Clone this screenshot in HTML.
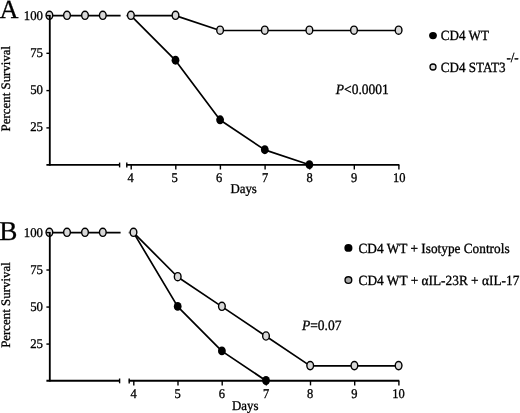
<!DOCTYPE html>
<html><head><meta charset="utf-8"><title>Survival</title>
<style>
html,body{margin:0;padding:0;background:#fff;}
body{width:520px;height:413px;overflow:hidden;}
svg{display:block;filter:grayscale(1);}
text{font-family:"Liberation Serif",serif;fill:#000;stroke:#000;stroke-width:0.3px;text-rendering:geometricPrecision;}
</style></head><body>
<svg width="520" height="413" viewBox="0 0 520 413">
<rect width="520" height="413" fill="#fff"/>
<g stroke="#000" stroke-width="1.7" fill="none" stroke-linejoin="round">
<path d="M49.8 15.6H120.6"/>
<path d="M125.9 15.6H130.9" stroke-opacity="0.45"/>
<path d="M130.9 15.6 L175.5 60.4 L220.1 120.0 L264.8 149.9 L309.4 164.8"/>
<path d="M130.9 15.6 L175.5 15.6 L220.1 30.5 L264.8 30.5 L309.4 30.5 L354.0 30.5 L398.6 30.5"/>
</g>
<g fill="#000">
<ellipse cx="175.5" cy="60.2" rx="3.9" ry="4.45"/>
<ellipse cx="220.1" cy="119.8" rx="3.9" ry="4.45"/>
<ellipse cx="264.8" cy="149.7" rx="3.9" ry="4.45"/>
<ellipse cx="309.4" cy="164.6" rx="3.9" ry="4.45"/>
</g>
<g fill="#d8d8d8" stroke="#000" stroke-width="1.4">
<ellipse cx="49.4" cy="15.299999999999999" rx="3.35" ry="4.1"/>
<ellipse cx="67.0" cy="15.299999999999999" rx="3.35" ry="4.1"/>
<ellipse cx="85.0" cy="15.299999999999999" rx="3.35" ry="4.1"/>
<ellipse cx="102.8" cy="15.299999999999999" rx="3.35" ry="4.1"/>
<ellipse cx="130.9" cy="15.3" rx="3.35" ry="4.1"/>
<ellipse cx="175.5" cy="15.3" rx="3.35" ry="4.1"/>
<ellipse cx="220.1" cy="30.2" rx="3.35" ry="4.1"/>
<ellipse cx="264.8" cy="30.2" rx="3.35" ry="4.1"/>
<ellipse cx="309.4" cy="30.2" rx="3.35" ry="4.1"/>
<ellipse cx="354.0" cy="30.2" rx="3.35" ry="4.1"/>
<ellipse cx="398.6" cy="30.2" rx="3.35" ry="4.1"/>
</g>
<g stroke="#000" stroke-width="1.85" fill="none" stroke-linecap="butt">
<path d="M49.8 15.0V165.65"/>
<path d="M46.4 164.8H120.0"/>
<path d="M126.39999999999999 164.8H399.32"/>
</g>
<g stroke="#000" stroke-width="1.4" fill="none">
<path d="M46.4 15.60H49.8"/>
<path d="M46.4 53.30H49.8"/>
<path d="M46.4 90.60H49.8"/>
<path d="M46.4 127.90H49.8"/>
<path d="M119.6 162.60000000000002V167.4"/>
<path d="M126.8 162.60000000000002V167.60000000000002"/>
<path d="M131.2 164.8V169.5"/>
<path d="M175.8 164.8V169.5"/>
<path d="M220.4 164.8V169.5"/>
<path d="M265.1 164.8V169.5"/>
<path d="M309.7 164.8V169.5"/>
<path d="M354.3 164.8V169.5"/>
<path d="M398.9 164.8V169.5"/>
</g>
<text transform="translate(43.00 19.50) scale(1 1.04)" font-size="12.8" text-anchor="end" stroke-width="0.15">100</text>
<text transform="translate(43.00 56.80) scale(1 1.04)" font-size="12.8" text-anchor="end" stroke-width="0.15">75</text>
<text transform="translate(43.00 94.10) scale(1 1.04)" font-size="12.8" text-anchor="end" stroke-width="0.15">50</text>
<text transform="translate(43.00 131.40) scale(1 1.04)" font-size="12.8" text-anchor="end" stroke-width="0.15">25</text>
<text transform="translate(130.70 182.30) scale(1 1.07)" font-size="12.5" text-anchor="middle" stroke-width="0.15">4</text>
<text transform="translate(174.52 182.30) scale(1 1.07)" font-size="12.5" text-anchor="middle" stroke-width="0.15">5</text>
<text transform="translate(219.14 182.30) scale(1 1.07)" font-size="12.5" text-anchor="middle" stroke-width="0.15">6</text>
<text transform="translate(265.06 182.30) scale(1 1.07)" font-size="12.5" text-anchor="middle" stroke-width="0.15">7</text>
<text transform="translate(309.68 182.30) scale(1 1.07)" font-size="12.5" text-anchor="middle" stroke-width="0.15">8</text>
<text transform="translate(354.20 182.30) scale(1 1.07)" font-size="12.5" text-anchor="middle" stroke-width="0.15">9</text>
<text transform="translate(399.22 182.30) scale(1 1.07)" font-size="12.5" text-anchor="middle" stroke-width="0.15">10</text>
<text transform="translate(243.60 193.10) scale(1 1.045)" font-size="12.86" text-anchor="middle">Days</text>
<text transform="translate(9.90 88.60) rotate(-90) scale(1 1.0)" font-size="12.9" text-anchor="middle">Percent Survival</text>
<text transform="translate(-0.40 17.70) scale(1 1.0)" font-size="26.3">A</text>
<text transform="translate(335.80 93.80) scale(1 1.06)" font-size="13.5" stroke-width="0.2"><tspan font-style="italic">P</tspan>&lt;0.0001</text>
<ellipse cx="433" cy="35.6" rx="3.9" ry="3.6" fill="#000"/>
<text transform="translate(440.80 40.20) scale(1 1.07)" font-size="13.1">CD4 WT</text>
<ellipse cx="433" cy="67.0" rx="3.0" ry="3.0" fill="#d8d8d8" stroke="#000" stroke-width="1.3"/>
<text transform="translate(440.80 71.70) scale(1 1.07)" font-size="13.1">CD4 STAT3<tspan font-size="13" dy="-8.7" dx="0.8">-/-</tspan></text>
<g stroke="#000" stroke-width="1.7" fill="none" stroke-linejoin="round">
<path d="M49.8 232.6H120.6"/>
<path d="M128.5 232.6H133.5" stroke-opacity="0.45"/>
<path d="M133.5 232.6 L177.7 306.6 L221.9 351.1 L266.0 380.7"/>
<path d="M133.5 232.6 L177.7 277.0 L221.9 306.6 L266.0 336.3 L310.2 365.9 L354.4 365.9 L398.6 365.9"/>
</g>
<g fill="#000">
<ellipse cx="177.7" cy="306.4" rx="3.9" ry="4.45"/>
<ellipse cx="221.9" cy="350.9" rx="3.9" ry="4.45"/>
<ellipse cx="266.0" cy="380.5" rx="3.9" ry="4.45"/>
</g>
<g fill="#d8d8d8" stroke="#000" stroke-width="1.4">
<ellipse cx="49.4" cy="232.29999999999998" rx="3.35" ry="4.1"/>
<ellipse cx="67.0" cy="232.29999999999998" rx="3.35" ry="4.1"/>
<ellipse cx="85.0" cy="232.29999999999998" rx="3.35" ry="4.1"/>
<ellipse cx="102.8" cy="232.29999999999998" rx="3.35" ry="4.1"/>
<ellipse cx="133.5" cy="232.3" rx="3.35" ry="4.1"/>
<ellipse cx="177.7" cy="276.7" rx="3.35" ry="4.1"/>
<ellipse cx="221.9" cy="306.3" rx="3.35" ry="4.1"/>
<ellipse cx="266.0" cy="336.0" rx="3.35" ry="4.1"/>
<ellipse cx="310.2" cy="365.6" rx="3.35" ry="4.1"/>
<ellipse cx="354.4" cy="365.6" rx="3.35" ry="4.1"/>
<ellipse cx="398.6" cy="365.6" rx="3.35" ry="4.1"/>
</g>
<g stroke="#000" stroke-width="1.85" fill="none" stroke-linecap="butt">
<path d="M49.8 232.0V381.55"/>
<path d="M46.4 380.7H120.0"/>
<path d="M128.79999999999998 380.7H399.28"/>
</g>
<g stroke="#000" stroke-width="1.4" fill="none">
<path d="M46.4 232.60H49.8"/>
<path d="M46.4 270.02H49.8"/>
<path d="M46.4 307.05H49.8"/>
<path d="M46.4 344.07H49.8"/>
<path d="M119.6 378.5V383.3"/>
<path d="M129.2 378.5V383.5"/>
<path d="M133.8 380.7V385.4"/>
<path d="M178.0 380.7V385.4"/>
<path d="M222.2 380.7V385.4"/>
<path d="M266.3 380.7V385.4"/>
<path d="M310.5 380.7V385.4"/>
<path d="M354.7 380.7V385.4"/>
<path d="M398.9 380.7V385.4"/>
</g>
<text transform="translate(43.00 236.50) scale(1 1.04)" font-size="12.8" text-anchor="end" stroke-width="0.15">100</text>
<text transform="translate(43.00 273.52) scale(1 1.04)" font-size="12.8" text-anchor="end" stroke-width="0.15">75</text>
<text transform="translate(43.00 310.55) scale(1 1.04)" font-size="12.8" text-anchor="end" stroke-width="0.15">50</text>
<text transform="translate(43.00 347.57) scale(1 1.04)" font-size="12.8" text-anchor="end" stroke-width="0.15">25</text>
<text transform="translate(133.50 398.20) scale(1 1.07)" font-size="12.5" text-anchor="middle" stroke-width="0.15">4</text>
<text transform="translate(177.68 398.20) scale(1 1.07)" font-size="12.5" text-anchor="middle" stroke-width="0.15">5</text>
<text transform="translate(221.86 398.20) scale(1 1.07)" font-size="12.5" text-anchor="middle" stroke-width="0.15">6</text>
<text transform="translate(266.04 398.20) scale(1 1.07)" font-size="12.5" text-anchor="middle" stroke-width="0.15">7</text>
<text transform="translate(310.22 398.20) scale(1 1.07)" font-size="12.5" text-anchor="middle" stroke-width="0.15">8</text>
<text transform="translate(354.40 398.20) scale(1 1.07)" font-size="12.5" text-anchor="middle" stroke-width="0.15">9</text>
<text transform="translate(398.58 398.20) scale(1 1.07)" font-size="12.5" text-anchor="middle" stroke-width="0.15">10</text>
<text transform="translate(245.30 409.60) scale(1 1.045)" font-size="12.86" text-anchor="middle">Days</text>
<text transform="translate(9.90 305.05) rotate(-90) scale(1 1.0)" font-size="12.9" text-anchor="middle">Percent Survival</text>
<text transform="translate(-0.70 239.50) scale(1 1.0)" font-size="27.2">B</text>
<text transform="translate(302.00 329.50) scale(1 1.06)" font-size="13.5" stroke-width="0.2"><tspan font-style="italic">P</tspan>=0.07</text>
<ellipse cx="348.4" cy="247.9" rx="4.05" ry="3.9" fill="#000"/>
<text transform="translate(358.50 252.70) scale(1 1.05)" font-size="13.3">CD4 WT + Isotype Controls</text>
<ellipse cx="348.4" cy="280.1" rx="3.35" ry="3.3" fill="#a8a8a8" stroke="#000" stroke-width="1.4"/>
<text transform="translate(358.50 285.00) scale(1 1.05)" font-size="13.35">CD4 WT + αIL-23R + αIL-17</text>
</svg>
</body></html>
